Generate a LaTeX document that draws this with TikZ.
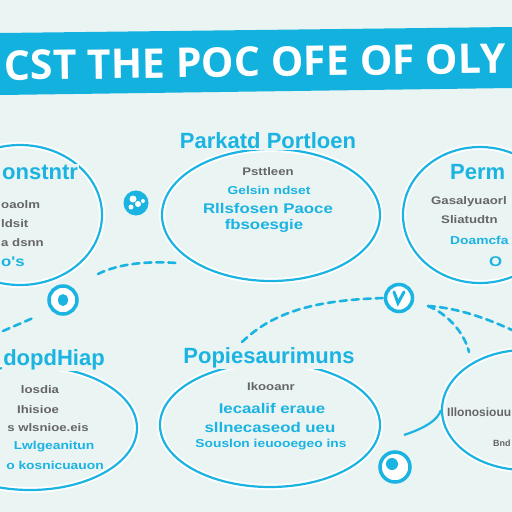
\documentclass[tikz,border=0pt]{standalone}
\usepackage{fontspec}
\setmainfont{Liberation Sans}
\newfontfamily\bannerfont{Open Sans}
\newfontfamily\widefont[FakeStretch=1.2]{Liberation Sans}
\usetikzlibrary{shapes.geometric}
\definecolor{bgpaper}{HTML}{E9F4F3}
\definecolor{skyline}{HTML}{1AB3E2}
\definecolor{bandcyan}{HTML}{12B1DE}
\definecolor{inkgray}{HTML}{666666}

\begin{document}
\begin{tikzpicture}[x=1pt, y=-1pt,
    bubble/.style={ellipse, draw=skyline, line width=2.2pt, inner sep=0pt,
      preaction={draw=white, line width=6pt}},
    head/.style={text=skyline, font=\bfseries\fontsize{22}{22}\selectfont, inner sep=1pt, fill=bgpaper},
    grayrow/.style={text=inkgray, font=\widefont\bfseries\fontsize{11}{11}\selectfont, inner sep=0pt},
    bluerow/.style={text=skyline, font=\widefont\bfseries\fontsize{14}{14}\selectfont, inner sep=0pt},
    smallrow/.style={font=\widefont\bfseries\fontsize{11.5}{11.5}\selectfont},
    dashlink/.style={skyline, line width=2.6pt, dash pattern=on 7pt off 5pt, line cap=round},
    ring/.style={circle, draw=skyline, line width=3.5pt, fill=white, minimum size=25pt, inner sep=0pt}]
  \fill[bgpaper] (0,0) rectangle (512,512);
  \useasboundingbox (0,0) rectangle (512,512);

  % banner
  \fill[bandcyan] (0,33) -- (512,27) -- (512,88) -- (0,95) -- cycle;
  \node[text=white, font=\bannerfont\bfseries\fontsize{41}{41}\selectfont, inner sep=0pt, rotate=0.8]
    (banner) at (255,62) {CST THE POC OFE OF OLY};

  % bubbles
  \node[bubble, minimum width=164pt, minimum height=140pt] (topleft) at (20,215) {};
  \node[bubble, minimum width=218pt, minimum height=132pt] (topmid) at (271,215) {};
  \node[bubble, minimum width=154pt, minimum height=136pt] (topright) at (480,215) {};
  \node[bubble, minimum width=214pt, minimum height=124pt] (botleft) at (30,428) {};
  \node[bubble, minimum width=220pt, minimum height=124pt] (botmid) at (270,425) {};
  \node[bubble, minimum width=166pt, minimum height=120pt] (botright) at (525,410) {};

  % top left text
  \node[head, anchor=west] (tlhead) at (1,172) {onstntr};
  \node[grayrow, anchor=west] (tlrow1) at (1,205) {oaolm};
  \node[grayrow, anchor=west] (tlrow2) at (1,224) {ldsit};
  \node[grayrow, anchor=west] (tlrow3) at (1,243) {a dsnn};
  \node[bluerow, anchor=west] (tlrow4) at (1,262) {o's};

  % top middle text
  \node[head] (tmhead) at (268,141) {Parkatd Portloen};
  \node[grayrow] (tmrow1) at (268,172) {Psttleen};
  \node[bluerow, smallrow] (tmrow2) at (269,190) {Gelsin ndset};
  \node[bluerow] (tmrow3) at (268,208) {Rllsfosen Paoce};
  \node[bluerow] (tmrow4) at (264,226) {fbsoesgie};

  % top right text
  \node[head, anchor=west] (trhead) at (449,172) {Perm};
  \node[grayrow, anchor=west] (trrow1) at (431,202) {Gasalyuaorl};
  \node[grayrow, anchor=west] (trrow2) at (441,220) {Sliatudtn};
  \node[bluerow, smallrow, anchor=west] (trrow3) at (450,240) {Doamcfa};
  \node[bluerow, anchor=west] (trrow4) at (489,262) {O};

  % bottom left text
  \node[head] (blhead) at (54,360) {dopdHiap};
  \node[grayrow] (blrow1) at (40,390) {losdia};
  \node[grayrow] (blrow2) at (38,410) {Ihisioe};
  \node[grayrow] (blrow3) at (48,428) {s wlsnioe.eis};
  \node[bluerow, smallrow] (blrow4) at (54,447) {Lwlgeanitun};
  \node[bluerow, smallrow] (blrow5) at (55,465) {o kosnicuauon};

  % bottom middle text
  \node[head] (bmhead) at (269,358) {Popiesaurimuns};
  \node[grayrow] (bmrow1) at (271,387) {Ikooanr};
  \node[bluerow] (bmrow2) at (272,408) {Iecaalif eraue};
  \node[bluerow] (bmrow3) at (270,427) {sllnecaseod ueu};
  \node[bluerow, smallrow] (bmrow4) at (271,445) {Souslon ieuooegeo ins};

  % bottom right text
  \node[grayrow, anchor=west, font=\bfseries\fontsize{12}{12}\selectfont] (brrow1) at (447,412) {Illonosiouu};
  \node[grayrow, anchor=west, font=\bfseries\fontsize{9}{9}\selectfont] (brrow2) at (493,443) {Bnd};

  % icons
  \node[circle, fill=skyline, minimum size=25pt, inner sep=0pt] (faceicon) at (136,203) {};
  \fill[white] (133,199) circle (3.5);
  \fill[white] (138,204) circle (3);
  \fill[white] (131,207) circle (2.5);
  \fill[white] (143,201) circle (2);
  \node[ring, minimum size=28pt] (dotleft) at (63,300) {};
  \fill[skyline] (dotleft) ellipse (5 and 6);
  \node[ring, minimum size=27pt] (tickicon) at (399,298) {};
  \draw[skyline, line width=3pt, line cap=round] (394,292) -- (398,303) -- (404,292);
  \node[ring, minimum size=30pt] (dotright) at (395,467) {};
  \fill[skyline] (392,464) circle (6);

  % links
  \coordinate (linkA) at (98,274);
  \coordinate (linkB) at (177,263);
  \coordinate (linkC) at (242,342);
  \coordinate (linkD) at (3,331);
  \coordinate (linkE) at (33,318);
  \coordinate (linkF) at (428,306);
  \coordinate (linkG) at (512,330);
  \coordinate (linkH) at (469,352);
  \coordinate (linkI) at (404,435);
  \draw[dashlink] (linkA) .. controls (120,263) and (150,261) .. (linkB);
  \draw[dashlink] (linkC) .. controls (275,310) and (320,300) .. (tickicon.west);
  \draw[dashlink] (linkD) -- (linkE);
  \draw[dashlink] (linkF) .. controls (460,308) and (490,320) .. (linkG);
  \draw[dashlink] (linkF) .. controls (450,315) and (465,335) .. (linkH);
  \draw[skyline, line width=2.2pt] (linkI) .. controls (425,428) and (438,420) .. (botright.west);
\end{tikzpicture}
\end{document}
